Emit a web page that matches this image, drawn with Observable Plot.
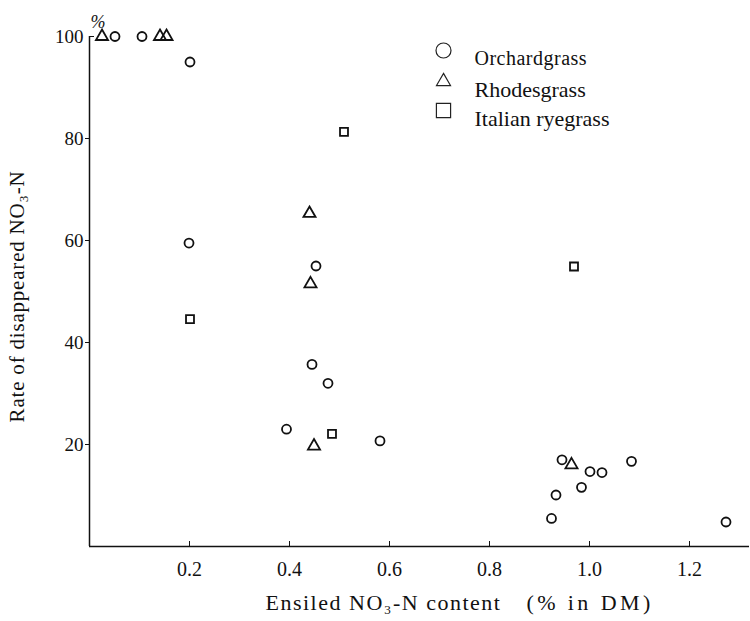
<!DOCTYPE html>
<html><head><meta charset="utf-8">
<script src="https://cdn.jsdelivr.net/npm/d3@7"></script>
<script src="https://cdn.jsdelivr.net/npm/@observablehq/plot@0.6"></script>
<style>
body{margin:0;background:#fff;}
#chart svg{font-family:"Liberation Serif",serif;}
</style></head><body><div id="chart"></div>
<script>
// Categories
const species = ["Orchardgrass", "Rhodesgrass", "Italian ryegrass"];
// Orchardgrass
const orchardX = [0.051, 0.105, 0.201, 0.199, 0.453, 0.445, 0.477, 0.394, 0.581, 0.945, 1.001, 1.025, 1.084, 0.984, 0.933, 0.924, 1.273];
const orchardY = [100, 100, 95, 59.5, 55, 35.7, 32, 23, 20.7, 17, 14.7, 14.5, 16.7, 11.6, 10.1, 5.5, 4.8];
// Rhodesgrass
const rhodesX = [0.025, 0.141, 0.154, 0.44, 0.442, 0.449, 0.964];
const rhodesY = [100, 100, 100, 65.3, 51.5, 19.7, 16];
// Italian ryegrass
const italianX = [0.509, 0.201, 0.485, 0.969];
const italianY = [81.3, 44.6, 22.1, 54.9];
// Ticks
const xTicks = [0.2, 0.4, 0.6, 0.8, 1.0, 1.2];
const yTicks = [20, 40, 60, 80, 100];
// Titles
const yTitle = "Rate of disappeared NO₃-N";
const xTitle = "Ensiled NO₃-N content";
const xUnit = "(% in DM)";

const data = [
  ...orchardX.map((x, i) => ({species: species[0], x, y: orchardY[i]})),
  ...rhodesX.map((x, i) => ({species: species[1], x, y: rhodesY[i]})),
  ...italianX.map((x, i) => ({species: species[2], x, y: italianY[i]}))
];

const legendStyle = [
  {dx: 354, dy: 14, r: 7.5, fs: 20},
  {dx: 354, dy: 45, r: 5.2, fs: 22},
  {dx: 354, dy: 74, r: 8.0, fs: 22}
];
const legendMarks = species.flatMap((s, i) => [
  Plot.dot([s], {symbol: d => d, frameAnchor: "top-left", dx: legendStyle[i].dx, dy: legendStyle[i].dy,
    r: legendStyle[i].r, stroke: "#222", strokeWidth: 1.2, fill: "none"}),
  Plot.text([s], {text: d => d, frameAnchor: "top-left", dx: legendStyle[i].dx + 31, dy: legendStyle[i].dy,
    textAnchor: "start", fontSize: legendStyle[i].fs, fill: "#111"})
]);

const chart = Plot.plot({
  width: 750, height: 621,
  marginLeft: 89, marginRight: 1, marginTop: 36, marginBottom: 75,
  style: {fontFamily: "Liberation Serif", color: "#111", background: "#fff"},
  x: {domain: [0, 1.32]},
  y: {domain: [0, 100]},
  symbol: {domain: species, range: ["circle", "triangle", "square"]},
  marks: [
    Plot.axisX(xTicks, {tickSize: 0, tickPadding: 15, tickFormat: d3.format(".1f"), label: null, fontSize: 20}),
    Plot.axisX(xTicks, {tickSize: 5, dy: -5, tickFormat: () => "", label: null}),
    Plot.axisY(yTicks, {tickSize: 0, tickPadding: 6, label: null, fontSize: 19}),
    Plot.axisY(yTicks.slice(0, 4), {tickSize: 4, tickFormat: () => "", label: null}),
    Plot.axisY(yTicks.slice(4), {tickSize: 5, dx: 5, tickFormat: () => "", label: null}),
    Plot.ruleX([0], {strokeWidth: 1.5}),
    Plot.ruleY([0], {strokeWidth: 1.5}),
    Plot.dot(data, {x: "x", y: "y", symbol: "species", r: 4.5, stroke: "#111", strokeWidth: 1.8, fill: "none"}),
    ...legendMarks,
    Plot.text(["%"], {text: d => d, frameAnchor: "top-left", dx: 1, dy: -21, fontSize: 18, fontStyle: "italic", fill: "#111"}),
    Plot.text([yTitle], {text: d => d, frameAnchor: "left", dx: -72, dy: 5, rotate: -90,
      textAnchor: "middle", fontSize: 21, fill: "#111"}),
    Plot.text([xTitle], {text: d => d, frameAnchor: "bottom-left", dx: 176, dy: 63,
      textAnchor: "start", fontSize: 22, fill: "#111"}),
    Plot.text([xUnit], {text: d => d, frameAnchor: "bottom-left", dx: 437, dy: 63,
      textAnchor: "start", fontSize: 22, fill: "#111"})
  ]
});
const spacing = {
  [yTitle]: "letter-spacing:0.8px",
  [xTitle]: "letter-spacing:1.5px",
  [xUnit]: "letter-spacing:3.4px",
  [species[0]]: "letter-spacing:0.5px"
};
d3.select(chart).selectAll("text").each(function () {
  const s = spacing[this.textContent];
  if (s) this.setAttribute("style", (this.getAttribute("style") || "") + ";" + s);
});
document.getElementById("chart").append(chart);
</script>
</body></html>
